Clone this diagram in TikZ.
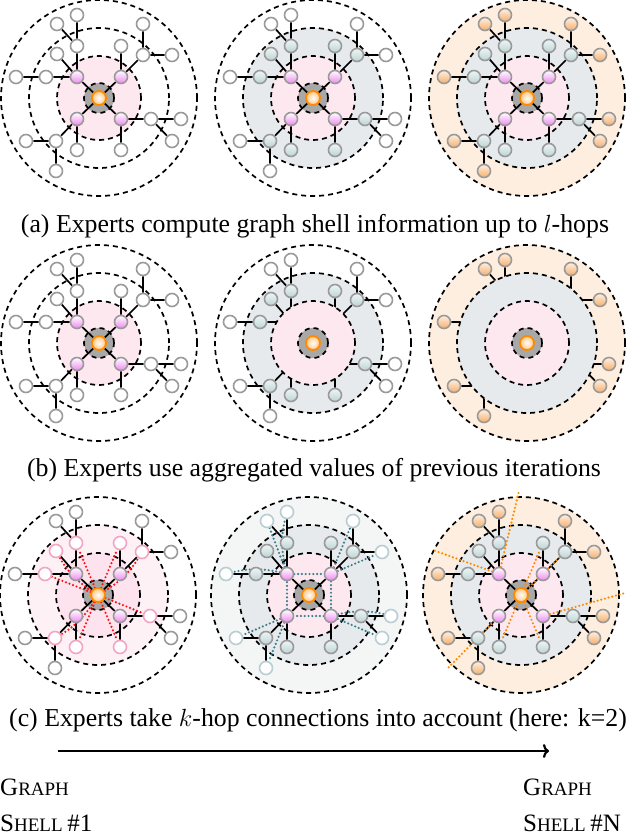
\documentclass[tikz,border=0pt]{standalone}
\usepackage{fontspec}
\setmainfont{Liberation Serif}
\usetikzlibrary{arrows.meta}
\pgfdeclarelayer{bg}\pgfdeclarelayer{edges}\pgfdeclarelayer{cover}\pgfdeclarelayer{dots}
\pgfsetlayers{bg,edges,cover,dots,main}
\definecolor{cpink}{HTML}{FDE8F0}
\definecolor{cpinkb}{HTML}{FCE3EE}
\definecolor{cpinklight}{HTML}{FDF1F6}
\definecolor{cblue}{HTML}{E6EAED}
\definecolor{cpeach}{HTML}{FDEEDF}
\definecolor{cpale}{HTML}{F4F6F6}
\definecolor{cgraydisc}{HTML}{A8A8A8}
\definecolor{cborder}{HTML}{9A9A9A}
\definecolor{cviolet}{HTML}{EE88EE}
\definecolor{cbluenode}{HTML}{BDD4D4}
\definecolor{cbluetop}{HTML}{EEF5F5}
\definecolor{corangenode}{HTML}{F5AE6A}
\definecolor{corangetop}{HTML}{FFF0E2}
\definecolor{corange}{HTML}{FF8A00}
\definecolor{cpinkborder}{HTML}{F2A6C4}
\definecolor{cpaleborder}{HTML}{B9CDD2}
\definecolor{cteal}{HTML}{3A7E8C}
\definecolor{cred}{HTML}{FF1010}
\tikzset{
 gnode/.style={circle, minimum size=13pt, inner sep=0pt, line width=1.6pt, draw=cborder},
 nwhite/.style={gnode, fill=white},
 npink/.style={gnode, top color=white, bottom color=cviolet},
 nblue/.style={gnode, top color=cbluetop, bottom color=cbluenode},
 norange/.style={gnode, top color=corangetop, bottom color=corangenode},
 nhid/.style={circle, minimum size=13pt, inner sep=0pt},
 nring/.style={gnode, draw=cpinkborder, fill=white},
 npale/.style={gnode, draw=cpaleborder, fill=white},
 cnode/.style={circle, minimum size=14pt, inner sep=0pt, line width=1.8pt, draw=corange, inner color=white, outer color=corange!50},
 gedge/.style={line width=1.7pt, black},
 dsh/.style={line width=1.7pt, dash pattern=on 5pt off 4pt},
 dotline/.style={line width=2.4pt, line cap=round, dash pattern=on 0pt off 3.8pt},
 captext/.style={font=\fontsize{25.8}{30}\selectfont, inner sep=0pt},
 lbl/.style={anchor=west, inner sep=0pt},
}
\newcommand\gnodes[3]{%
 \node[cnode] (c) at (0,0) {};
 \node[#1] (p1) at (-22,-21) {};
 \node[#1] (p2) at (22,-21) {};
 \node[#1] (p3) at (22,21) {};
 \node[#1] (p4) at (-22,21) {};
 \node[#2] (a1) at (-22,-52) {};
 \node[#2] (a2) at (-42,-44) {};
 \node[#2] (a3) at (-53,-21) {};
 \node[#2] (b1) at (22,-52) {};
 \node[#2] (b2) at (44,-43) {};
 \node[#2] (c1) at (52,21) {};
 \node[#2] (c2) at (22,52) {};
 \node[#2] (d1) at (-43,43) {};
 \node[#2] (d2) at (-22,52) {};
 \node[#3] (a1a) at (-22,-83) {};
 \node[#3] (a1b) at (-42,-74) {};
 \node[#3] (a3a) at (-83,-21) {};
 \node[#3] (b2a) at (44,-74) {};
 \node[#3] (b2b) at (73,-43) {};
 \node[#3] (c1a) at (82,21) {};
 \node[#3] (c1b) at (73,43) {};
 \node[#3] (d1a) at (-73,43) {};
 \node[#3] (d1b) at (-43,73) {};
 \begin{pgfonlayer}{edges}
 \draw[gedge] (c)--(p1) (c)--(p2) (c)--(p3) (c)--(p4)
  (p1)--(a1) (p1)--(a2) (p1)--(a3) (a1)--(a1a) (a1)--(a1b) (a3)--(a3a)
  (p2)--(b1) (p2)--(b2) (b2)--(b2a) (b2)--(b2b)
  (p3)--(c1) (p3)--(c2) (c1)--(c1a) (c1)--(c1b)
  (p4)--(d1) (p4)--(d2) (d1)--(d1a) (d1)--(d1b);
 \end{pgfonlayer}}
\newcommand\fillc[2]{\begin{pgfonlayer}{bg}\fill[#2] (0,0) circle[radius=#1pt];\end{pgfonlayer}}
\newcommand\ringc[1]{\begin{pgfonlayer}{bg}\draw[dsh] (0,0) circle[radius=#1pt];\end{pgfonlayer}}
\newcommand\corec{\begin{pgfonlayer}{bg}\draw[dsh, fill=cgraydisc] (0,0) circle[radius=15pt];\end{pgfonlayer}}
\newcommand\coverc[2]{\begin{pgfonlayer}{cover}\draw[dsh, fill=#2] (0,0) circle[radius=#1pt];\end{pgfonlayer}}
\newcommand\bigsz{\fontsize{25}{28}\selectfont}
\newcommand\smsz{\fontsize{19}{22}\selectfont}
\begin{document}
\begin{tikzpicture}[x=1pt,y=-1pt]
\useasboundingbox (0,0) rectangle (628,836);
% ---- row 1
\begin{scope}[shift={(99,98)}, name prefix=A-]
 \fillc{42}{cpink}\ringc{42}\ringc{70}\ringc{98}\corec
 \gnodes{npink}{nwhite}{nwhite}
\end{scope}
\begin{scope}[shift={(313,98)}, name prefix=B-]
 \fillc{70}{cblue}\fillc{42}{cpink}\ringc{42}\ringc{70}\ringc{98}\corec
 \gnodes{npink}{nblue}{nwhite}
\end{scope}
\begin{scope}[shift={(527,98)}, name prefix=C-]
 \fillc{98}{cpeach}\fillc{70}{cblue}\fillc{42}{cpink}\ringc{42}\ringc{70}\ringc{98}\corec
 \gnodes{npink}{nblue}{norange}
\end{scope}
\node[captext] (capa) at (315,226) {(a) Experts compute graph shell information up to $l$-hops};
% ---- row 2
\begin{scope}[shift={(99,343)}, name prefix=D-]
 \fillc{42}{cpink}\ringc{42}\ringc{70}\ringc{98}\corec
 \gnodes{npink}{nwhite}{nwhite}
\end{scope}
\begin{scope}[shift={(313,343)}, name prefix=E-]
 \fillc{70}{cblue}\ringc{70}\ringc{98}
 \coverc{42}{cpink}\coverc{15}{cgraydisc}
 \gnodes{nhid}{nblue}{nwhite}
\end{scope}
\begin{scope}[shift={(527,343)}, name prefix=F-]
 \fillc{98}{cpeach}\ringc{98}
 \coverc{70}{cblue}\coverc{42}{cpink}\coverc{15}{cgraydisc}
 \gnodes{nhid}{nhid}{norange}
\end{scope}
\node[captext] (capb) at (314,470) {(b) Experts use aggregated values of previous iterations};
% ---- row 3
\begin{scope}[shift={(98,595)}, name prefix=G-]
 \fillc{70}{cpinklight}\fillc{42}{cpinkb}\ringc{42}\ringc{70}\ringc{98}\corec
 \gnodes{npink}{nring}{nwhite}
 \begin{pgfonlayer}{dots}
 \draw[dotline, cred] (c)--(a1) (c) to[bend left=14] (a2) (c)--(a3) (c)--(b1)
  (c) to[bend right=14] (b2) (c)--(c1) (c)--(c2) (c) to[bend left=14] (d1) (c)--(d2);
 \end{pgfonlayer}
\end{scope}
\begin{scope}[shift={(309,595)}, name prefix=H-]
 \fillc{98}{cpale}\fillc{70}{cblue}\fillc{42}{cpink}\ringc{42}\ringc{70}\ringc{98}\corec
 \gnodes{npink}{nblue}{npale}
 \begin{pgfonlayer}{dots}
 \draw[dotline, cteal] (p1)--(p2) (p2)--(p3) (p3)--(p4) (p4)--(p1)
  (p1) to[bend left=14] (a1a) (p1)--(a1b) (p1) to[bend right=14] (a3a)
  (p2)--(b2a) (p2)--(b2b)
  (p3) to[bend left=14] (c1a) (p3)--(c1b)
  (p4)--(d1a) (p4)--(d1b);
 \end{pgfonlayer}
\end{scope}
\begin{scope}[shift={(521,595)}, name prefix=I-]
 \fillc{98}{cpeach}\fillc{70}{cblue}\fillc{42}{cpink}\ringc{42}\ringc{70}\ringc{98}\corec
 \gnodes{npink}{nblue}{norange}
 \coordinate (o1) at (-2,-104);
 \coordinate (o2) at (-88,-45);
 \coordinate (o3) at (104,-2);
 \coordinate (o4) at (-74,74);
 \begin{pgfonlayer}{dots}
 \draw[dotline, corange] (p1)--(o1) (p1)--(o2) (p3)--(o3) (p4)--(o4)
  (c)--(b1) (c)--(c2) (c)--(d2) (c)--(b2);
 \end{pgfonlayer}
\end{scope}
\node[captext] (capc) at (318,720) {(c) Experts take $k$-hop connections into account (here: k=2)};
% ---- arrow and labels
\coordinate (ar1) at (58,751);
\coordinate (ar2) at (549,751);
\draw[line width=2.2pt, -{To[length=6pt,width=14pt]}] (ar1) -- (ar2);
\node[lbl] (g1) at (0,787) {\bigsz G\smsz RAPH};
\node[lbl] (s1) at (0,823) {\bigsz S\smsz HELL \bigsz\#1};
\node[lbl] (g2) at (523,787) {\bigsz G\smsz RAPH};
\node[lbl] (s2) at (523,823) {\bigsz S\smsz HELL \bigsz\#N};
\end{tikzpicture}
\end{document}
